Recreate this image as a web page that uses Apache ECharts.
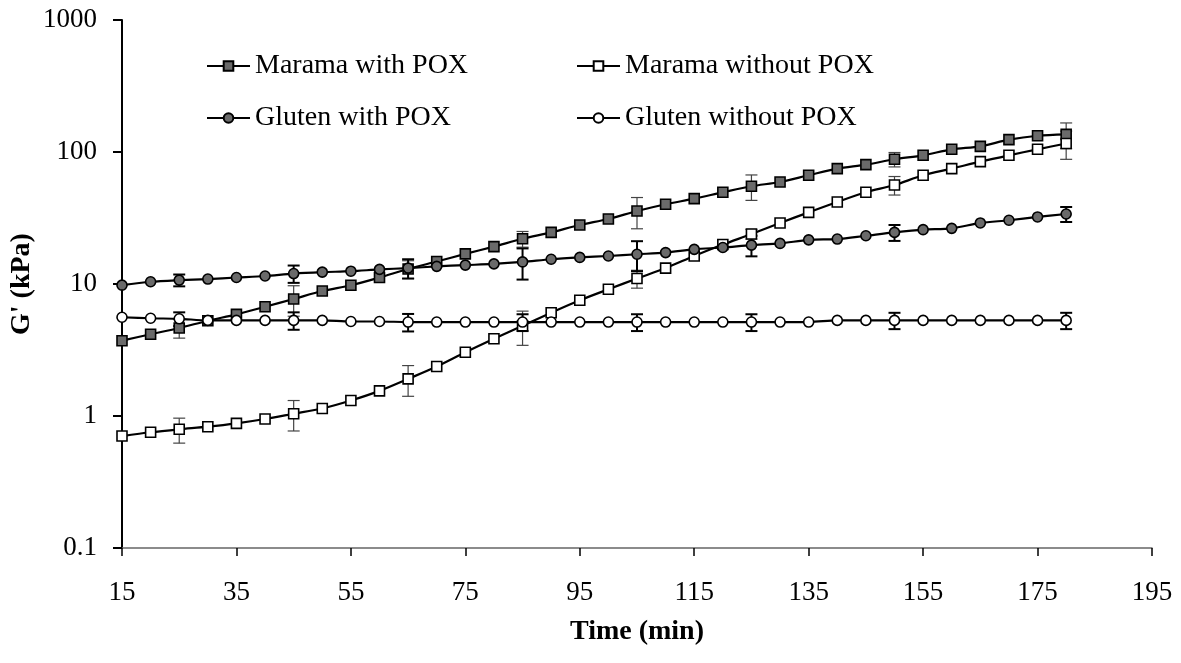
<!DOCTYPE html>
<html>
<head>
<meta charset="utf-8">
<script src="https://cdn.jsdelivr.net/npm/echarts@6/dist/echarts.min.js"></script>
<style>
  html, body { margin: 0; padding: 0; background: #fff; }
  #main { width: 1181px; height: 663px; }
</style>
</head>
<body>
<div id="main"></div>
<script>
var times = [15, 20, 25, 30, 35, 40, 45, 50, 55, 60, 65, 70, 75, 80, 85, 90, 95,
  100, 105, 110, 115, 120, 125, 130, 135, 140, 145, 150, 155, 160, 165, 170, 175, 180];

var maramaPox = [3.72, 4.16, 4.64, 5.27, 5.89, 6.73, 7.7, 8.85, 9.78, 11.2, 13.0, 14.8,
  16.9, 19.2, 22.0, 24.6, 28.0, 31.1, 35.7, 40.2, 44.3, 49.5, 55.0, 59.3, 66.7, 74.8,
  80.2, 88.1, 94.4, 104.8, 110.4, 124, 132.8, 136];
var maramaNoPox = [0.705, 0.753, 0.793, 0.83, 0.88, 0.949, 1.04, 1.14, 1.31, 1.55, 1.91,
  2.37, 3.04, 3.85, 4.83, 6.06, 7.53, 9.12, 11.0, 13.2, 16.3, 19.9, 23.9, 29.0, 34.9,
  41.8, 49.5, 56.2, 66.6, 74.8, 84.5, 94.4, 104.8, 116];
var glutenPox = [9.8, 10.4, 10.7, 10.9, 11.2, 11.5, 12.0, 12.3, 12.5, 12.9, 13.2, 13.6,
  13.9, 14.2, 14.7, 15.4, 15.9, 16.3, 16.8, 17.3, 18.3, 18.9, 19.7, 20.3, 21.6, 21.9,
  23.2, 24.6, 25.8, 26.4, 29.0, 30.4, 32.2, 33.9];
var glutenNoPox = [5.6, 5.5, 5.45, 5.3, 5.3, 5.3, 5.3, 5.3, 5.2, 5.2, 5.15, 5.15, 5.15,
  5.15, 5.15, 5.15, 5.15, 5.15, 5.15, 5.15, 5.15, 5.15, 5.15, 5.15, 5.15, 5.3, 5.3, 5.3,
  5.3, 5.3, 5.3, 5.3, 5.3, 5.3];

// error bars (± value) at these times
var errTimes = [25, 45, 65, 85, 105, 125, 150, 180];
var maramaPoxErr = [0.75, 2.0, 2.0, 3.0, 9.5, 12, 11, 30];
var maramaNoPoxErr = [0.17, 0.27, 0.5, 1.4, 1.7, 2, 9, 28];
var glutenPoxErr = [1.1, 1.8, 2.2, 3.9, 4.3, 3.5, 3.4, 4.4];
var glutenNoPoxErr = [0.65, 0.8, 0.78, 0.75, 0.75, 0.75, 0.75, 0.75];

var yTicks = [0.1, 1, 10, 100, 1000];

var FONT = '"Liberation Serif", "Times New Roman", serif';

function pairs(vals) {
  return times.map(function (t, i) { return [t, vals[i]]; });
}

function errData(vals, errs) {
  return errTimes.map(function (t, i) {
    var v = vals[times.indexOf(t)];
    return [t, v - errs[i], v + errs[i]];
  });
}

function renderErr(color, width) {
  return function (params, api) {
    var x = api.value(0);
    var top = api.coord([x, api.value(2)]);
    var bot = api.coord([x, api.value(1)]);
    var hw = 6;
    var style = { stroke: color, lineWidth: width };
    return {
      type: "group",
      children: [
        { type: "line", shape: { x1: top[0], y1: top[1], x2: bot[0], y2: bot[1] }, style: style },
        { type: "line", shape: { x1: top[0] - hw, y1: top[1], x2: top[0] + hw, y2: top[1] }, style: style },
        { type: "line", shape: { x1: bot[0] - hw, y1: bot[1], x2: bot[0] + hw, y2: bot[1] }, style: style },
      ],
    };
  };
}

function lineSeries(name, vals, symbol, fill) {
  return {
    name: name,
    type: "line",
    smooth: 0.3,
    data: pairs(vals),
    symbol: symbol,
    symbolSize: 10,
    showAllSymbol: true,
    z: 3,
    lineStyle: { color: "#000", width: 2.2 },
    itemStyle: { color: fill, borderColor: "#000", borderWidth: 1.6 },
  };
}

function errSeries(vals, errs, color, width) {
  return {
    type: "custom",
    name: "err",
    data: errData(vals, errs),
    renderItem: renderErr(color, width),
    encode: { x: 0, y: [1, 2] },
    z: 2,
    silent: true,
  };
}

var chartDom = document.getElementById("main");
var myChart = echarts.init(chartDom);
var option;

var legendCommon = {
  orient: "vertical",
  top: 46,
  itemWidth: 43,
  itemHeight: 12,
  itemGap: 22,
  textStyle: { fontFamily: FONT, fontSize: 28, color: "#000", lineHeight: 30 },
};

option = {
  animation: false,
  backgroundColor: "#fff",
  grid: {
    left: 122,
    right: 29,
    top: 20,
    bottom: 115,
    containLabel: false,
    outerBoundsMode: "none",
  },
  legend: [
    Object.assign({ left: 201, data: ["Marama with POX", "Gluten with POX"] }, legendCommon),
    Object.assign({ left: 571, data: ["Marama without POX", "Gluten without POX"] }, legendCommon),
  ],
  xAxis: {
    type: "value",
    min: 15,
    max: 195,
    interval: 20,
    name: "Time (min)",
    nameLocation: "middle",
    nameGap: 70,
    nameMoveOverlap: false,
    nameTextStyle: { fontFamily: FONT, fontSize: 28, fontWeight: "bold", color: "#000" },
    axisLine: { lineStyle: { color: "#666", width: 1.5 } },
    axisTick: { inside: false, length: 8, lineStyle: { color: "#000", width: 1.5 } },
    axisLabel: { margin: 31, fontFamily: FONT, fontSize: 27, color: "#000" },
    splitLine: { show: false },
  },
  yAxis: {
    type: "log",
    logBase: 10,
    min: yTicks[0],
    max: yTicks[yTicks.length - 1],
    name: "G' (kPa)",
    nameLocation: "middle",
    nameGap: 86,
    nameMoveOverlap: false,
    nameTextStyle: { fontFamily: FONT, fontSize: 28, fontWeight: "bold", color: "#000" },
    axisLine: { show: true, lineStyle: { color: "#000", width: 2 } },
    axisTick: { show: true, length: 9, lineStyle: { color: "#000", width: 2 } },
    axisLabel: {
      margin: 25,
      fontFamily: FONT,
      fontSize: 27,
      color: "#000",
      formatter: function (v) { return String(+v.toPrecision(3)); },
    },
    splitLine: { show: false },
    minorTick: { show: false },
  },
  series: [
    errSeries(maramaPox, maramaPoxErr, "#444", 1.2),
    errSeries(maramaNoPox, maramaNoPoxErr, "#444", 1.2),
    errSeries(glutenPox, glutenPoxErr, "#000", 2),
    errSeries(glutenNoPox, glutenNoPoxErr, "#000", 2),
    lineSeries("Marama with POX", maramaPox, "rect", "#6a6a6a"),
    lineSeries("Marama without POX", maramaNoPox, "rect", "#fff"),
    lineSeries("Gluten with POX", glutenPox, "circle", "#6a6a6a"),
    lineSeries("Gluten without POX", glutenNoPox, "circle", "#fff"),
  ],
};

option && myChart.setOption(option);
</script>
</body>
</html>
